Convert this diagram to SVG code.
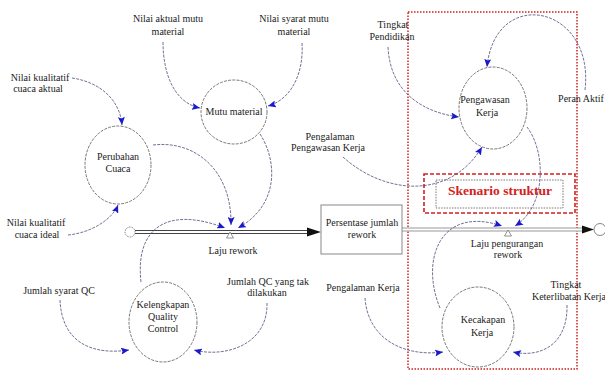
<svg xmlns="http://www.w3.org/2000/svg" width="605" height="371" viewBox="0 0 605 371">
<style>
text{font-family:"Liberation Serif","Times New Roman",serif;font-size:10px;fill:#222;text-anchor:middle}
.aux{fill:none;stroke:#555;stroke-width:0.8;stroke-dasharray:3 1.2}
.con{fill:none;stroke:#4d4d7a;stroke-width:0.8;stroke-dasharray:3 1.2;marker-end:url(#ah)}
.valve{fill:#fff;stroke:#777;stroke-width:0.8}
</style>
<defs>
<marker id="ah" markerUnits="userSpaceOnUse" markerWidth="9" markerHeight="7" refX="8" refY="3.5" orient="auto">
<path d="M0,0 L8,3.5 L0,7 L1.5,3.5 z" fill="#1a1acc"/>
</marker>
</defs>
<rect x="0" y="0" width="605" height="371" fill="#fff"/>

<g id="scenario-area">
<rect x="408" y="12" width="169" height="357" fill="none" stroke="#d42020" stroke-width="1.5" stroke-dasharray="1.5 1.5"/>
</g>

<g id="flows">
<line x1="135" y1="232" x2="308" y2="232" stroke="#444" stroke-width="4"/>
<line x1="135" y1="232" x2="310" y2="232" stroke="#fff" stroke-width="2"/>
<polygon points="307,227.5 321,232 307,236.5" fill="#111"/>
<path d="M130,227 a5,5 0 1,0 0.1,0" fill="none" stroke="#666" stroke-width="0.8" stroke-dasharray="1.5 1"/>
<line x1="402" y1="229.5" x2="583" y2="229.5" stroke="#999" stroke-width="4"/>
<line x1="402" y1="229.5" x2="584" y2="229.5" stroke="#fff" stroke-width="2"/>
<polygon points="582,225.5 594,229.5 582,233.5" fill="#111"/>
<circle cx="600" cy="229.5" r="6" fill="#fff" stroke="#666" stroke-width="0.8"/>
</g>

<g id="valve-laju-rework">
<polygon class="valve" points="226.5,238 233.5,238 230,232"/>
<text x="233" y="254">Laju rework</text>
</g>
<g id="valve-laju-pengurangan">
<polygon class="valve" points="504.5,236 511.5,236 508,230"/>
<text x="507" y="247">Laju pengurangan</text>
<text x="508" y="258">rework</text>
</g>

<g id="stock-persentase">
<rect x="321" y="205" width="81" height="49" fill="#fff" stroke="#888" stroke-width="1"/>
<text x="362" y="226">Persentase jumlah</text>
<text x="362" y="238">rework</text>
</g>

<g id="mutu-material">
<ellipse class="aux" cx="234" cy="112" rx="33" ry="32"/>
<text x="234" y="115">Mutu material</text>
</g>
<g id="perubahan-cuaca">
<ellipse class="aux" cx="118" cy="165" rx="33" ry="39"/>
<text x="118" y="160">Perubahan</text>
<text x="118" y="172">Cuaca</text>
</g>
<g id="kelengkapan-qc">
<ellipse class="aux" cx="163" cy="322" rx="34" ry="40"/>
<text x="163" y="308">Kelengkapan</text>
<text x="163" y="320">Quality</text>
<text x="163" y="332">Control</text>
</g>
<g id="pengawasan-kerja">
<ellipse class="aux" cx="493" cy="108" rx="34" ry="41"/>
<text x="485" y="103">Pengawasan</text>
<text x="487" y="116">Kerja</text>
</g>
<g id="kecakapan-kerja">
<ellipse class="aux" cx="478" cy="327" rx="36" ry="40"/>
<text x="483" y="323">Kecakapan</text>
<text x="482" y="336">Kerja</text>
</g>

<g id="nilai-aktual-mutu"><text x="168" y="22">Nilai aktual mutu</text><text x="168" y="35">material</text></g>
<g id="nilai-syarat-mutu"><text x="294" y="22">Nilai syarat mutu</text><text x="294" y="35">material</text></g>
<g id="nilai-cuaca-aktual"><text x="40" y="81">Nilai kualitatif</text><text x="38" y="92">cuaca aktual</text></g>
<g id="nilai-cuaca-ideal"><text x="36" y="226">Nilai kualitatif</text><text x="37" y="238">cuaca ideal</text></g>
<g id="jumlah-syarat-qc"><text x="59" y="294">Jumlah syarat QC</text></g>
<g id="jumlah-qc-tak"><text x="268" y="285">Jumlah QC yang tak</text><text x="267" y="296">dilakukan</text></g>
<g id="tingkat-pendidikan"><text x="393" y="28">Tingkat</text><text x="392" y="40">Pendidikan</text></g>
<g id="peran-aktif"><text x="581" y="102">Peran Aktif</text></g>
<g id="pengalaman-pengawasan"><text x="330" y="140">Pengalaman</text><text x="328" y="151">Pengawasan Kerja</text></g>
<g id="pengalaman-kerja"><text x="363" y="291">Pengalaman Kerja</text></g>
<g id="tingkat-keterlibatan"><text x="566" y="288">Tingkat</text><text x="569" y="300">Keterlibatan Kerja</text></g>

<g id="skenario-struktur">
<rect x="424" y="174" width="151" height="39" fill="none" stroke="#d42020" stroke-width="1.6" stroke-dasharray="4 2"/>
<rect x="436" y="180" width="127" height="28" fill="none" stroke="#555" stroke-width="0.8" stroke-dasharray="1.5 1.2"/>
<text x="500" y="195" style="font-size:13.5px;font-weight:bold;fill:#d42020">Skenario struktur</text>
</g>

<g id="connectors">
<path class="con" d="M163,42 C163,75 175,103 200,108"/>
<path class="con" d="M302,43 C304,75 290,100 268,106"/>
<path class="con" d="M72,78 C100,82 120,100 122,125"/>
<path class="con" d="M68,235 C90,233 112,220 118,205"/>
<path class="con" d="M153,145 C195,140 232,170 231,225"/>
<path class="con" d="M260,134 C277,160 280,205 238,228"/>
<path class="con" d="M141,282 C135,230 165,205 225,228"/>
<path class="con" d="M60,300 C62,345 95,355 129,350"/>
<path class="con" d="M267,303 C268,345 225,358 194,350"/>
<path class="con" d="M388,47 C390,90 420,112 459,117"/>
<path class="con" d="M585,90 C595,5 495,-15 487,67"/>
<path class="con" d="M343,157 C385,195 450,200 482,147"/>
<path class="con" d="M527,127 C545,150 548,205 515,226"/>
<path class="con" d="M440,308 C420,260 440,205 502,226"/>
<path class="con" d="M365,298 C368,340 405,357 443,352"/>
<path class="con" d="M567,305 C568,345 540,358 513,352"/>
</g>
</svg>
